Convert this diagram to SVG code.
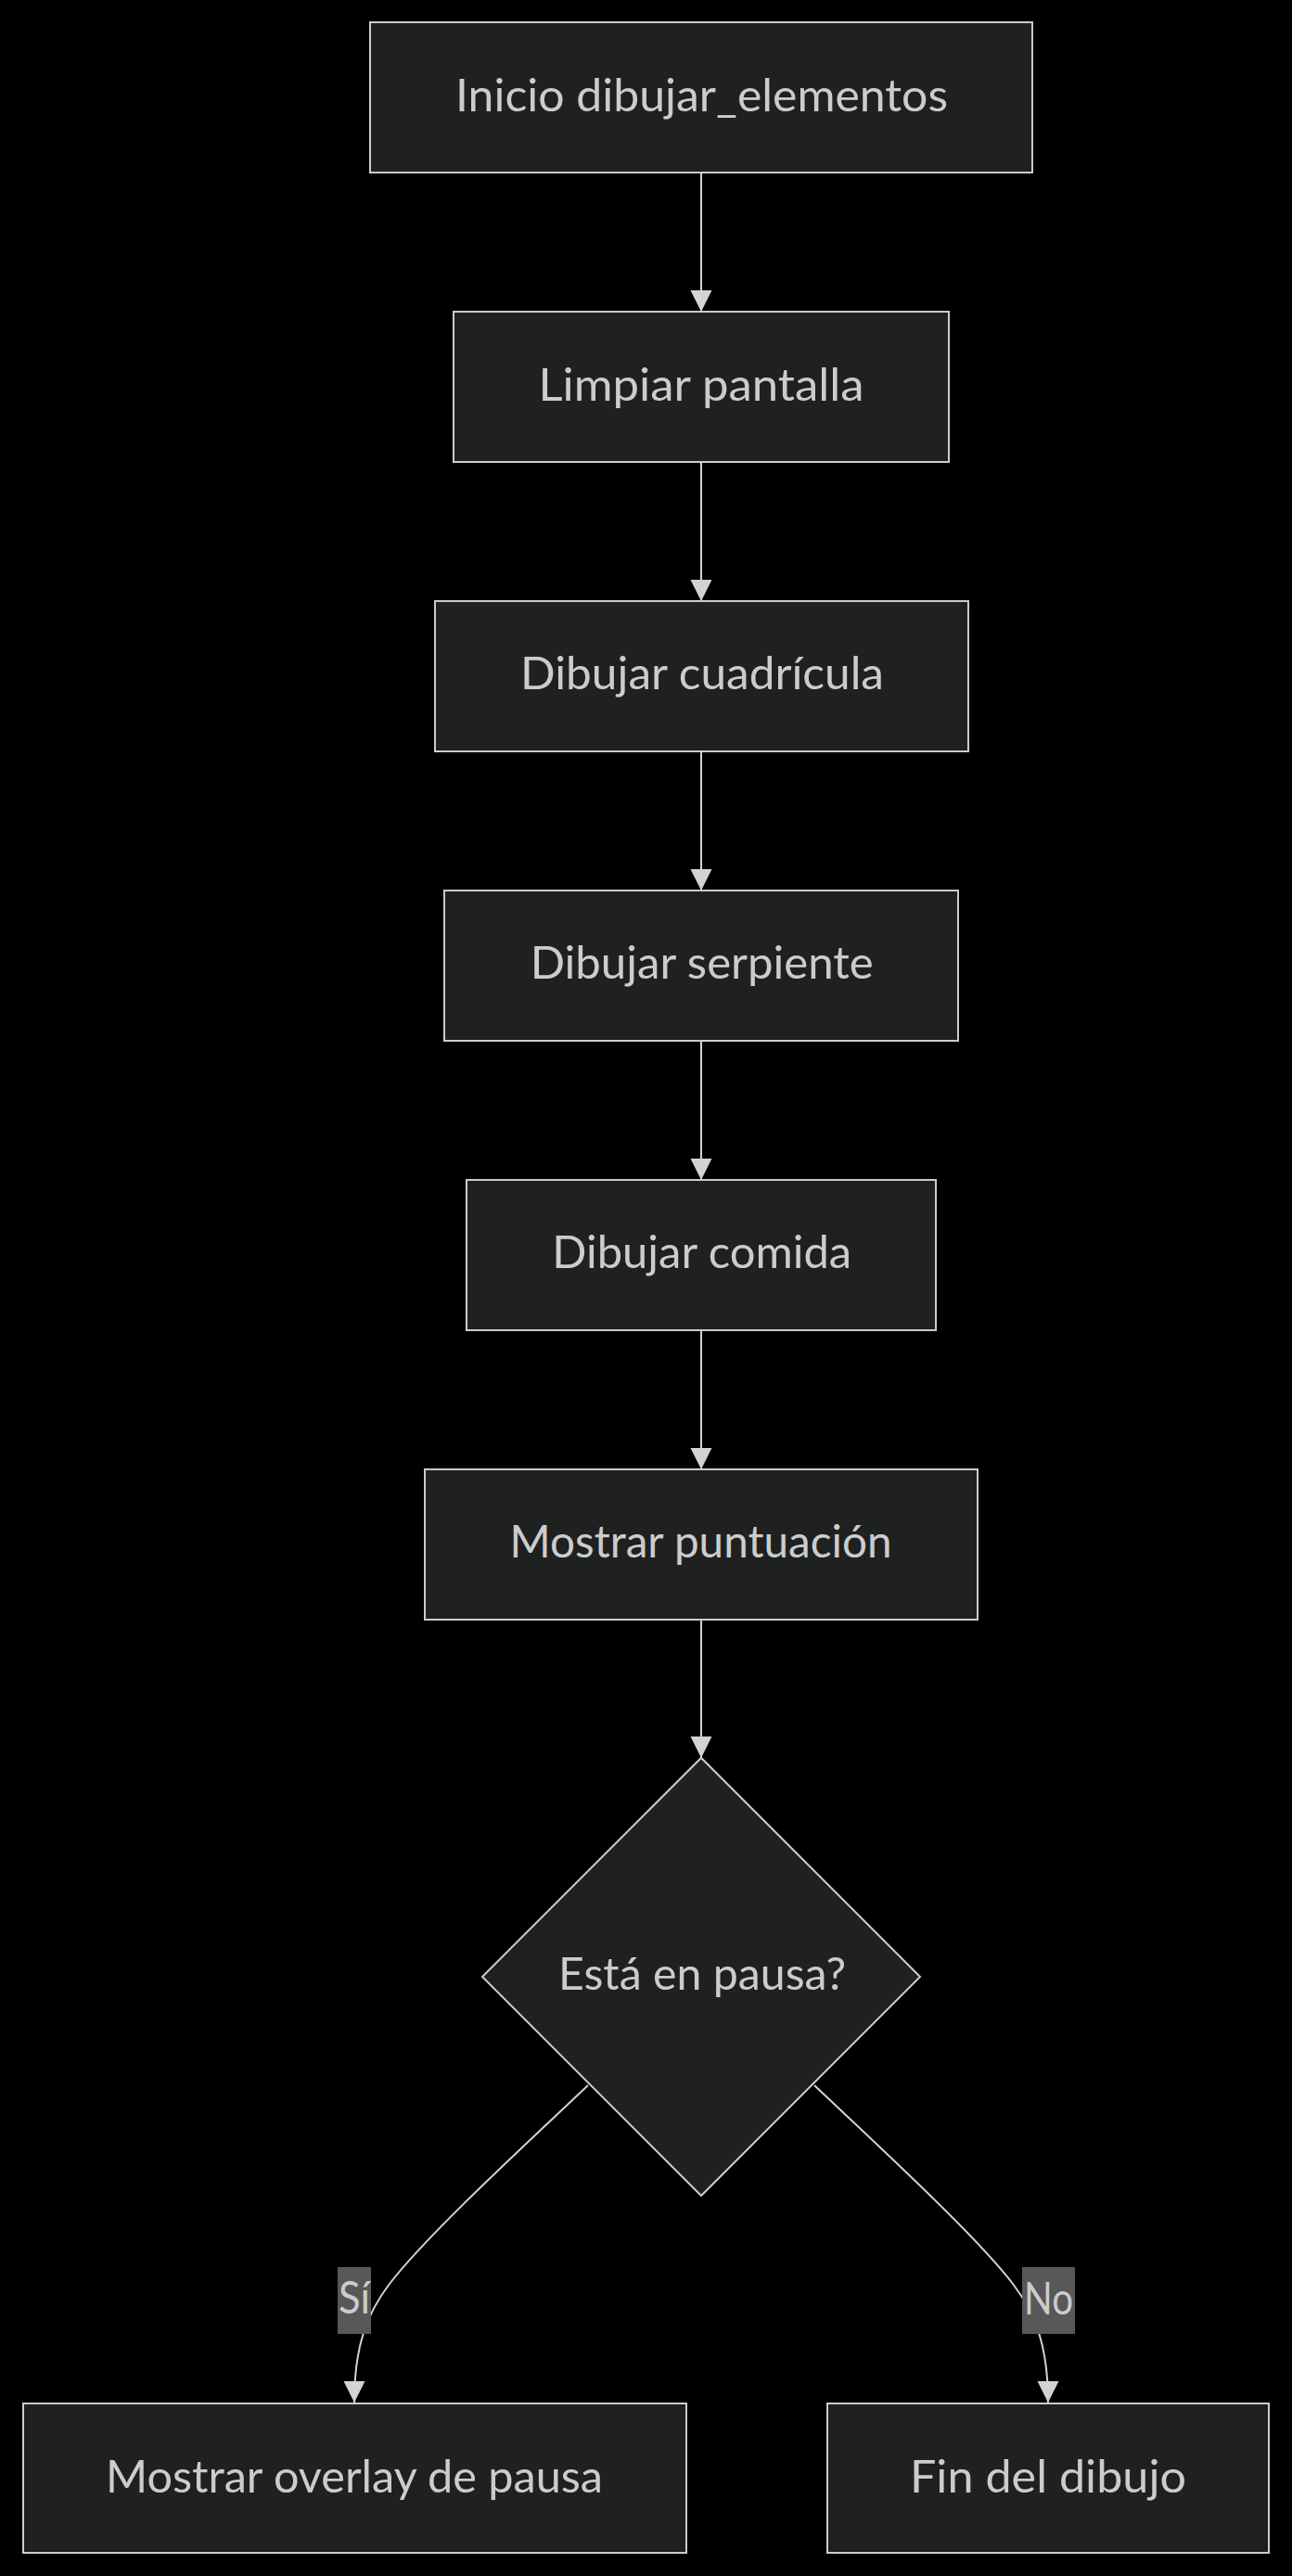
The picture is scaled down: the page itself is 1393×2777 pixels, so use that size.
<svg xmlns="http://www.w3.org/2000/svg" width="1393" height="2777" viewBox="0 0 1393 2777">
  <style>
    .node rect, .node polygon { fill: #1f2020; stroke: #cccccc; stroke-width: 2; }
    .node text { font-family: Lato, "Open Sans", "Liberation Sans", sans-serif; font-size: 48px; fill: #cccccc; text-anchor: middle; }
    .edge { fill: none; stroke: #d3d3d3; stroke-width: 2; }
    .elabel rect { fill: #585858; stroke: none; }
    .elabel text { font-family: Lato, "Open Sans", "Liberation Sans", sans-serif; font-size: 48px; fill: #cccccc; text-anchor: middle; }
  </style>
  <defs>
    <marker id="arrow" viewBox="0 0 10 10" refX="10" refY="5" markerUnits="userSpaceOnUse" markerWidth="23" markerHeight="24" orient="auto">
      <path d="M0,0 L10,5 L0,10 z" fill="#d3d3d3"/>
    </marker>
  </defs>
  <rect x="0" y="0" width="1393" height="2777" fill="#000000"/>

  <g id="connectors">
    <path class="edge" d="M756,186 L756,336" marker-end="url(#arrow)"/>
    <path class="edge" d="M756,498 L756,648" marker-end="url(#arrow)"/>
    <path class="edge" d="M756,810 L756,960" marker-end="url(#arrow)"/>
    <path class="edge" d="M756,1122 L756,1272" marker-end="url(#arrow)"/>
    <path class="edge" d="M756,1434 L756,1584" marker-end="url(#arrow)"/>
    <path class="edge" d="M756,1746 L756,1895" marker-end="url(#arrow)"/>
    <path class="edge" d="M634,2248 C560,2318 460,2410 420,2462 C395,2495 382,2530 382,2590" marker-end="url(#arrow)"/>
    <path class="edge" d="M878,2248 C952,2318 1052,2410 1092,2462 C1117,2495 1130,2530 1130,2590" marker-end="url(#arrow)"/>
    <g class="elabel" id="label-si">
      <rect x="364" y="2444" width="36" height="72"/>
      <text x="382" y="2494" textLength="34" lengthAdjust="spacingAndGlyphs">Sí</text>
    </g>
    <g class="elabel" id="label-no">
      <rect x="1102" y="2444" width="57" height="72"/>
      <text x="1130.5" y="2495" textLength="53" lengthAdjust="spacingAndGlyphs">No</text>
    </g>
  </g>

  <g id="node-inicio" class="node">
    <rect x="399" y="24" width="714" height="162"/>
    <text x="756.5" y="120" textLength="531" lengthAdjust="spacingAndGlyphs">Inicio dibujar_elementos</text>
  </g>
  <g id="node-limpiar" class="node">
    <rect x="489" y="336" width="534" height="162"/>
    <text x="756" y="432" textLength="351" lengthAdjust="spacingAndGlyphs">Limpiar pantalla</text>
  </g>
  <g id="node-cuadricula" class="node">
    <rect x="469" y="648" width="575" height="162"/>
    <text x="757" y="743" textLength="392" lengthAdjust="spacingAndGlyphs">Dibujar cuadrícula</text>
  </g>
  <g id="node-serpiente" class="node">
    <rect x="479" y="960" width="554" height="162"/>
    <text x="756.7" y="1055" textLength="370" lengthAdjust="spacingAndGlyphs">Dibujar serpiente</text>
  </g>
  <g id="node-comida" class="node">
    <rect x="503" y="1272" width="506" height="162"/>
    <text x="756.7" y="1367" textLength="323" lengthAdjust="spacingAndGlyphs">Dibujar comida</text>
  </g>
  <g id="node-puntuacion" class="node">
    <rect x="458" y="1584" width="596" height="162"/>
    <text x="755.5" y="1679" textLength="412" lengthAdjust="spacingAndGlyphs">Mostrar puntuación</text>
  </g>
  <g id="node-pausa" class="node">
    <polygon points="756,1895 992,2131 756,2367 520,2131"/>
    <text x="757" y="2145" textLength="310" lengthAdjust="spacingAndGlyphs">Está en pausa?</text>
  </g>
  <g id="node-overlay" class="node">
    <rect x="25" y="2591" width="715" height="161"/>
    <text x="382" y="2687" textLength="536" lengthAdjust="spacingAndGlyphs">Mostrar overlay de pausa</text>
  </g>
  <g id="node-fin" class="node">
    <rect x="892" y="2591" width="476" height="161"/>
    <text x="1130" y="2687" textLength="298" lengthAdjust="spacingAndGlyphs">Fin del dibujo</text>
  </g>
</svg>
